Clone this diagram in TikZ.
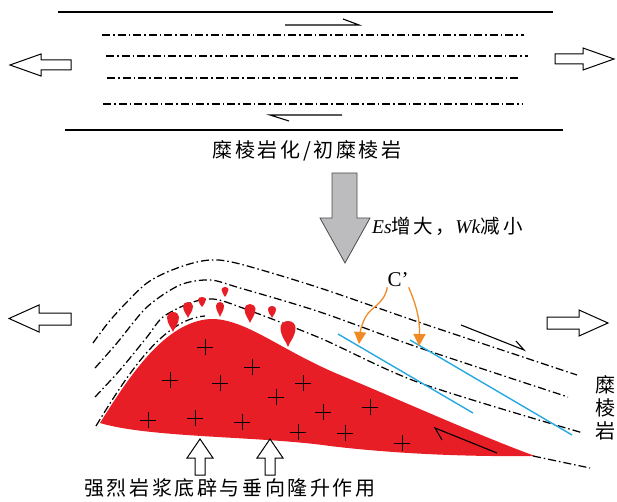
\documentclass[tikz,border=0pt]{standalone}
\usepackage{fontspec}
\setmainfont{Liberation Serif}
\newfontfamily\cjk[LetterSpace=13]{Noto Sans CJK SC}
\usetikzlibrary{arrows.meta}
\definecolor{magma}{RGB}{232,30,38}
\definecolor{ccorange}{RGB}{240,138,36}
\definecolor{ccblue}{RGB}{38,168,224}
\definecolor{pushgrey}{RGB}{188,188,190}

\tikzset{drop/.pic={
  \fill[magma] (0,2) .. controls (-0.1,1.6) and (-0.5,1.2) .. (-0.5,0.5)
    arc[start angle=180, end angle=360, radius=0.5]
    .. controls (0.5,1.2) and (0.1,1.6) .. (0,2) -- cycle;}}

\begin{document}
\begin{tikzpicture}[x=1pt,y=-1pt,
  foliation/.style={line width=1.25pt, dash pattern=on 8pt off 3pt on 1.5pt off 3pt},
  fault/.style={line width=1.3pt},
  shear/.style={line width=1.1pt},
  hollow/.style={draw, line width=1pt, fill=white, line join=miter},
  cross/.style={line width=0.8pt},
  cline/.style={ccblue, line width=1.4pt},
  carrow/.style={ccorange, line width=1.3pt, -{Triangle[width=12pt,length=12pt]}},
  cjklabel/.style={font=\cjk\fontsize{20}{23}\selectfont, inner sep=0pt}]
\useasboundingbox (0,0) rectangle (617,502);

% shear zone before doming
\draw[fault] (58,12) -- (553,12);
\draw[fault] (65,130) -- (563,130);
\draw[foliation] (102,35) -- (524,35);
\draw[foliation] (106,56) -- (528,56);
\draw[foliation] (107,78) -- (520,78);
\draw[foliation] (103,104) -- (522,104);
\draw[shear] (285,25) -- (359,25) -- (343,19);
\draw[shear] (342,115) -- (270,115) -- (289,121);
% extension
\draw[hollow] (71,60) -- (41,60) -- (41,54) -- (10,65) -- (41,76) -- (41,70) -- (71,70) -- cycle;
\draw[hollow] (555,54) -- (583,54) -- (583,48) -- (614,59) -- (583,70) -- (583,64) -- (555,64) -- cycle;
\node[cjklabel] (mylon) at (307,151) {糜棱岩化/初糜棱岩};

% evolution arrow
\draw[fill=pushgrey, draw=black!70, line width=0.8pt] (332,173) -- (357,173) -- (357,218) -- (370,218)
  -- (345,263) -- (320,218) -- (332,218) -- cycle;
\node[font=\fontsize{19.5}{20}\selectfont, anchor=west, inner sep=0pt] (trend) at (372,226)
  {\textit{Es}{\cjk 增大，}\textit{Wk}{\cjk 减\hspace{4pt}小}};

% folded foliation over the dome
\draw[foliation] plot[smooth] coordinates {(93,343) (113,317) (147,283) (180,267) (210,260) (240,264) (320,288) (430,326) (577,375)};
\draw[foliation] plot[smooth] coordinates {(95,368) (117,343) (147,307) (180,285) (210,280) (240,288) (320,312) (420,348) (568,397)};
\draw[foliation] plot[smooth] coordinates {(95,397) (120,370) (147,337) (163,317) (190,303) (213,299) (240,307) (320,338) (420,383) (583,433)};

% granite body
\fill[magma] (100,423) .. controls (130,375) and (165,322) .. (210,319)
  .. controls (245,318) and (280,350) .. (340,375)
  .. controls (400,400) and (480,436) .. (535,456)
  .. controls (450,457) and (380,452) .. (330,446)
  .. controls (260,436) and (150,438) .. (100,423) -- cycle;
\draw[foliation] (96,426) .. controls (127,375) and (163,319) .. (205,316);
\draw[foliation] (533,456) -- (590,468);
\foreach \x/\y/\w/\h in {173/312/12/20, 188/302/10/16, 202/297/8/10, 225/287/7/10,
    220/302/8/15, 250/304/11/19, 272/306/8/12, 288/321/15/26}
  \pic[xscale=\w, yscale=\h/2] at (\x,\y) {drop};
\foreach \x/\y in {205/347, 252/367, 170/380, 220/383, 303/383, 276/397, 323/412,
    370/407, 148/420, 195/418, 242/422, 298/432, 345/433, 402/443}
  \draw[cross] (\x-8,\y) -- (\x+8,\y) (\x,\y-8) -- (\x,\y+8);
\draw[shear] (497,453) -- (435,428) -- (442,440);
\draw[shear] (461,325) -- (524,350) -- (516,341);

% C' shear bands
\coordinate (tipa) at (359,344);
\coordinate (tipb) at (419,346);
\draw[cline] (338,334) -- (473,413);
\draw[cline] (410,340) -- (572,435);
\node[font=\fontsize{21}{21}\selectfont, inner sep=0pt] (cprime) at (398,280) {C’};
\draw[carrow] (cprime.south west) .. controls (384,305) and (370,307) .. (365,318)
  .. controls (361,326) and (360,333) .. (tipa);
\draw[carrow] (cprime.south east) .. controls (416,305) and (420,318) .. (tipb);

% extension and uplift
\draw[hollow] (71,313) -- (39,313) -- (39,305) -- (9,318.5) -- (39,332) -- (39,325) -- (71,325) -- cycle;
\draw[hollow] (547,317) -- (579,317) -- (579,310) -- (608,323) -- (579,336) -- (579,329) -- (547,329) -- cycle;
\foreach \x in {200,270}
  \draw[hollow] (\x,439) -- ++(13,19) -- ++(-8,0) -- ++(0,17) -- ++(-10,0) -- ++(0,-17) -- ++(-8,0) -- cycle;
\node[cjklabel, align=center] (mylonv) at (605,408) {糜\\棱\\岩};
\node[cjklabel] (uplift) at (230,488) {强烈岩浆底辟与垂向隆升作用};
\end{tikzpicture}
\end{document}
